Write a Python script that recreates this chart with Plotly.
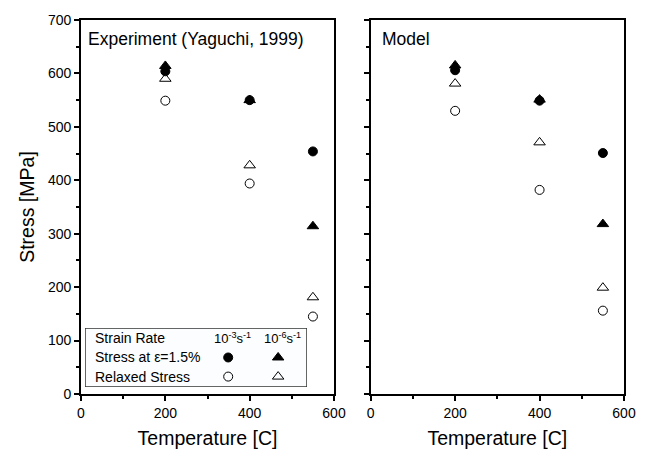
import plotly.graph_objects as go

temps = [200, 400, 550]

# Experiment (Yaguchi, 1999)
exp_stress_fast = [604, 550, 454]     # filled circle, 10^-3 s^-1
exp_stress_slow = [614, 550, 314]     # filled triangle, 10^-6 s^-1
exp_relax_fast = [549, 394, 145]      # open circle
exp_relax_slow = [590, 428, 181]      # open triangle

# Model
mod_stress_fast = [606, 549, 451]
mod_stress_slow = [615, 551, 318]
mod_relax_fast = [530, 382, 156]
mod_relax_slow = [581, 471, 199]

x_ticks = [0, 200, 400, 600]
y_ticks = [0, 100, 200, 300, 400, 500, 600, 700]

legend_rows = ["Strain Rate", "Stress at ε=1.5%", "Relaxed Stress"]
legend_cols = ["10<sup>-3</sup>s<sup>-1</sup>", "10<sup>-6</sup>s<sup>-1</sup>"]

FONT = "Arial"

fig = go.Figure()

styles = [
    dict(symbol="circle", size=9, color="black", line=dict(color="black", width=1)),
    dict(symbol="triangle-up", size=10, color="black", line=dict(color="black", width=1)),
    dict(symbol="circle-open", size=9, color="black", line=dict(color="black", width=1)),
    dict(symbol="triangle-up-open", size=10, color="black", line=dict(color="black", width=1)),
]

for xa, ya, series in [
    ("x", "y", [exp_stress_fast, exp_stress_slow, exp_relax_fast, exp_relax_slow]),
    ("x2", "y2", [mod_stress_fast, mod_stress_slow, mod_relax_fast, mod_relax_slow]),
]:
    for vals, st in zip(series, styles):
        fig.add_trace(go.Scatter(x=temps, y=vals, mode="markers", marker=st,
                                 xaxis=xa, yaxis=ya, showlegend=False,
                                 hoverinfo="x+y"))

# Legend-table markers on a hidden helper axis spanning the legend box
leg_x = [0.645, 0.87]
leg_y_rows = [1, 2]
for ri, row_styles in enumerate([[styles[0], styles[1]], [styles[2], styles[3]]]):
    for ci, st in enumerate(row_styles):
        fig.add_trace(go.Scatter(x=[leg_x[ci]], y=[leg_y_rows[ri]], mode="markers",
                                 marker=st, xaxis="x3", yaxis="y3",
                                 showlegend=False, hoverinfo="skip"))

W, H = 658, 458
ml, mr, mt, mb = 81, 34, 16, 63
pw = W - ml - mr
ph = H - mt - mb

def px_to_xdom(px):
    return (px - ml) / pw

def py_to_ydom(py):
    return (H - mb - py) / ph

left_dom = [0, px_to_xdom(334)]
right_dom = [px_to_xdom(370.7), 1]

axis_common = dict(
    showline=True, linecolor="black", linewidth=1.6, mirror=True,
    ticks="outside", ticklen=5, tickwidth=1.6, tickcolor="black",
    showgrid=False, zeroline=False,
    tickfont=dict(family=FONT, size=14, color="black"),
)

xa = dict(axis_common, range=[0, 600], tickvals=x_ticks,
          minor=dict(dtick=100, tick0=0, ticks="outside", ticklen=3, tickwidth=1.5, tickcolor="black"),
          title=dict(text="Temperature [C]", font=dict(family=FONT, size=19.5, color="black"), standoff=12))
ya = dict(axis_common, range=[0, 700], tickvals=y_ticks,
          minor=dict(dtick=50, tick0=0, ticks="outside", ticklen=3, tickwidth=1.5, tickcolor="black"))

fig.update_layout(
    width=W, height=H,
    margin=dict(l=ml, r=mr, t=mt, b=mb),
    paper_bgcolor="white", plot_bgcolor="white",
    font=dict(family=FONT, color="black"),
    xaxis=dict(xa, domain=left_dom, anchor="y"),
    yaxis=dict(ya, domain=[0, 1], anchor="x",
               title=dict(text="Stress [MPa]", font=dict(family=FONT, size=19.5, color="black"), standoff=8)),
    xaxis2=dict(xa, domain=right_dom, anchor="y2"),
    yaxis2=dict(ya, domain=[0, 1], anchor="x2", showticklabels=False),
    xaxis3=dict(domain=[px_to_xdom(85), px_to_xdom(307)], range=[0, 1], visible=False,
                anchor="y3", fixedrange=True),
    yaxis3=dict(domain=[py_to_ydom(388), py_to_ydom(328)], range=[2.55, -0.55], visible=False,
                anchor="x3", fixedrange=True),
)

# legend box
fig.add_shape(type="rect", xref="x3", yref="y3", x0=0, x1=1, y0=-0.55, y1=2.55,
              line=dict(color="#333333", width=1.5), fillcolor="#fbfdfe", layer="below")

for ri, txt in enumerate(legend_rows):
    fig.add_annotation(xref="x3", yref="y3", x=0.035, y=ri, text=txt, showarrow=False,
                       xanchor="left", yanchor="middle",
                       font=dict(family=FONT, size=14, color="black"))
for ci, txt in enumerate(legend_cols):
    fig.add_annotation(xref="x3", yref="y3", x=leg_x[ci] + 0.02, y=0, text=txt, showarrow=False,
                       xanchor="center", yanchor="middle",
                       font=dict(family=FONT, size=13, color="black"))

fig.add_annotation(xref="x domain", yref="y domain", x=0.02, y=0.98,
                   text="Experiment (Yaguchi, 1999)", showarrow=False,
                   xanchor="left", yanchor="top",
                   font=dict(family=FONT, size=17.5, color="black"))
fig.add_annotation(xref="x2 domain", yref="y2 domain", x=0.035, y=0.98,
                   text="Model", showarrow=False,
                   xanchor="left", yanchor="top",
                   font=dict(family=FONT, size=17.5, color="black"))

fig.write_html("out.html")
